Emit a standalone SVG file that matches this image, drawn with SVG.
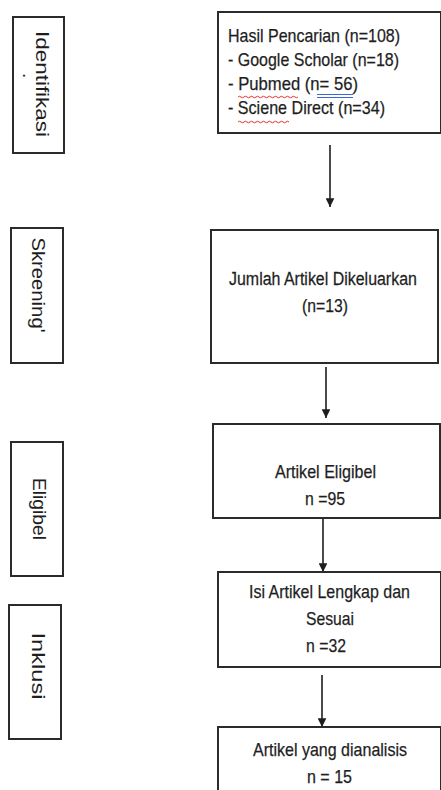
<svg xmlns="http://www.w3.org/2000/svg" width="441" height="790" viewBox="0 0 441 790">
<style>
.box{fill:#fff;stroke:#2b2b2b;stroke-width:2}
.t{font-family:"Liberation Sans",Arial,sans-serif;font-size:19px;fill:#1e1e1e;stroke:#1e1e1e;stroke-width:0.25}
.lbl{font-family:"Liberation Sans",Arial,sans-serif;font-size:19px;fill:#1e1e1e}
.conn{stroke:#1e1e1e;stroke-width:1.6;fill:none}
</style>
<defs>
<marker id="ah" viewBox="0 0 10 10" refX="10" refY="5" markerWidth="5.5" markerHeight="5.5" orient="auto" markerUnits="strokeWidth">
<path d="M0,0 L10,5 L0,10 z" fill="#1e1e1e"/>
</marker>
</defs>
<rect x="0" y="0" width="441" height="790" fill="#fff"/>

<g id="lbl-identifikasi">
<rect class="box" x="13" y="17" width="51" height="136"/>
<text class="lbl" x="84" y="-36" transform="rotate(90)" text-anchor="middle" textLength="106" lengthAdjust="spacingAndGlyphs">Identifikasi</text>
<text class="lbl" x="73" y="-23" transform="rotate(90)" font-size="14">.</text>
</g>
<g id="lbl-skreening">
<rect class="box" x="11" y="228" width="52" height="135"/>
<text class="lbl" x="285" y="-32" transform="rotate(90)" text-anchor="middle" textLength="95" lengthAdjust="spacingAndGlyphs">Skreening'</text>
</g>
<g id="lbl-eligibel">
<rect class="box" x="11" y="442" width="52" height="134"/>
<text class="lbl" x="509" y="-33" transform="rotate(90)" text-anchor="middle" textLength="62" lengthAdjust="spacingAndGlyphs">Eligibel</text>
</g>
<g id="lbl-inklusi">
<rect class="box" x="9" y="605" width="52" height="134"/>
<text class="lbl" x="666" y="-32" transform="rotate(90)" text-anchor="middle" font-size="16" fill="#444" textLength="67" lengthAdjust="spacingAndGlyphs">Inklusi</text>
</g>

<g id="connectors">
<line class="conn" x1="330" y1="145" x2="330" y2="207" marker-end="url(#ah)"/>
<line class="conn" x1="326" y1="367" x2="326" y2="418" marker-end="url(#ah)"/>
<line class="conn" x1="323" y1="518" x2="323" y2="572" marker-end="url(#ah)"/>
<line class="conn" x1="322" y1="675" x2="322" y2="727" marker-end="url(#ah)"/>
</g>

<g id="n-hasil">
<rect class="box" x="218" y="12" width="223" height="121"/>
<text class="t" x="228" y="42" textLength="172" lengthAdjust="spacingAndGlyphs">Hasil Pencarian (n=108)</text>
<text class="t" x="228" y="66" textLength="171" lengthAdjust="spacingAndGlyphs">- Google Scholar (n=18)</text>
<text class="t" x="228" y="90" textLength="130" lengthAdjust="spacingAndGlyphs">- Pubmed (n=  56)</text>
<text class="t" x="228" y="114" textLength="157" lengthAdjust="spacingAndGlyphs">- Sciene Direct (n=34)</text>
<path d="M238,97 q1.5,-1.5 3,0 t3,0 t3,0 t3,0 t3,0 t3,0 t3,0 t3,0 t3,0 t3,0 t3,0 t3,0 t3,0 t3,0 t3,0 t3,0 t3,0 t3,0 t3,0 t3,0" fill="none" stroke="#e03030" stroke-width="1"/>
<path d="M238,122 q1.5,-1.5 3,0 t3,0 t3,0 t3,0 t3,0 t3,0 t3,0 t3,0 t3,0 t3,0 t3,0 t3,0 t3,0 t3,0 t3,0 t3,0 t3,0" fill="none" stroke="#e03030" stroke-width="1"/>
<line x1="317" y1="94.5" x2="353" y2="94.5" stroke="#3a66d8" stroke-width="1"/>
<line x1="317" y1="97.5" x2="353" y2="97.5" stroke="#3a66d8" stroke-width="1"/>
</g>

<g id="n-jumlah">
<rect class="box" x="211" y="230" width="227" height="133"/>
<text class="t" transform="translate(229,285) scale(0.84,1)" x="0" y="0">Jumlah Artikel Dikeluarkan</text>
<text class="t" x="302" y="312" textLength="46" lengthAdjust="spacingAndGlyphs">(n=13)</text>
</g>

<g id="n-eligibel">
<rect class="box" x="213" y="424" width="227" height="94"/>
<text class="t" x="275" y="478" textLength="101" lengthAdjust="spacingAndGlyphs">Artikel Eligibel</text>
<text class="t" x="305" y="505" textLength="40" lengthAdjust="spacingAndGlyphs">n =95</text>
</g>

<g id="n-isi">
<rect class="box" x="218" y="572" width="223" height="95"/>
<text class="t" x="249" y="598" textLength="161" lengthAdjust="spacingAndGlyphs">Isi Artikel Lengkap dan</text>
<text class="t" x="306" y="625" textLength="48" lengthAdjust="spacingAndGlyphs">Sesuai</text>
<text class="t" x="306" y="652" textLength="40" lengthAdjust="spacingAndGlyphs">n =32</text>
</g>

<g id="n-analisis">
<rect class="box" x="218" y="727" width="223" height="80"/>
<text class="t" x="253" y="756" textLength="154" lengthAdjust="spacingAndGlyphs">Artikel yang dianalisis</text>
<text class="t" x="307" y="783" textLength="45" lengthAdjust="spacingAndGlyphs">n = 15</text>
</g>
</svg>
